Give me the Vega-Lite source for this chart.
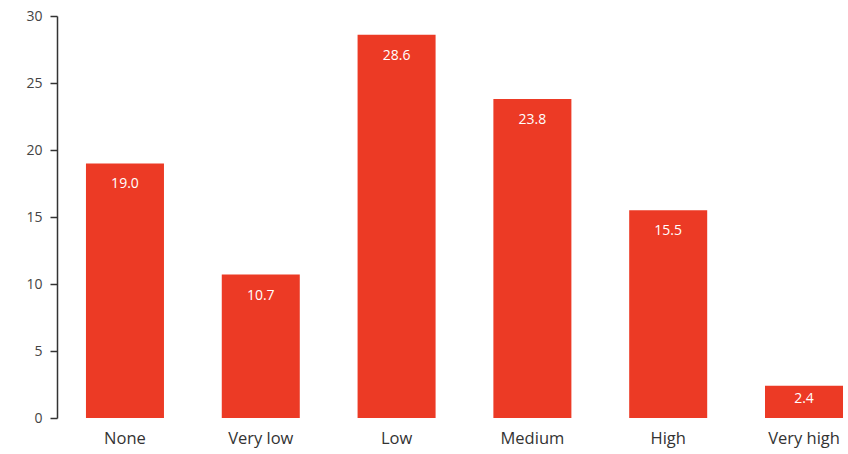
{
  "$schema": "https://vega.github.io/schema/vega-lite/v6.json",
  "autosize": {"type": "none"},
  "padding": {"left": 57, "top": 16, "right": 0, "bottom": 36},
  "width": 791,
  "height": 402,
  "background": "white",
  "config": {
    "view": {"stroke": null},
    "font": "Open Sans"
  },
  "data": {
    "values": [
      {"category": "None", "value": 19.0},
      {"category": "Very low", "value": 10.7},
      {"category": "Low", "value": 28.6},
      {"category": "Medium", "value": 23.8},
      {"category": "High", "value": 15.5},
      {"category": "Very high", "value": 2.4}
    ]
  },
  "encoding": {
    "x": {
      "field": "category",
      "type": "nominal",
      "sort": null,
      "scale": {"paddingInner": 0.4256, "paddingOuter": 0.125, "align": 0.853},
      "axis": {
        "title": null,
        "domain": false,
        "ticks": false,
        "labelAngle": 0,
        "labelFontSize": 16.5,
        "labelColor": "#333333",
        "labelPadding": 12
      }
    },
    "y": {
      "field": "value",
      "type": "quantitative",
      "scale": {"domain": [0, 30], "nice": false},
      "axis": {
        "title": null,
        "values": [0, 5, 10, 15, 20, 25, 30],
        "grid": false,
        "domainColor": "#333333",
        "domainWidth": 1.5,
        "tickColor": "#333333",
        "tickSize": 7,
        "tickWidth": 1.5,
        "labelFontSize": 14,
        "labelColor": "#444444",
        "labelPadding": 8
      }
    }
  },
  "layer": [
    {"mark": {"type": "bar", "color": "#EC3A25"}},
    {
      "transform": [{"filter": "datum.value >= 5"}],
      "mark": {"type": "text", "color": "white", "fontSize": 14, "baseline": "middle", "dy": 21},
      "encoding": {"text": {"field": "value", "type": "quantitative", "format": ".1f"}}
    },
    {
      "transform": [{"filter": "datum.value < 5"}],
      "mark": {"type": "text", "color": "white", "fontSize": 14, "baseline": "middle", "dy": 13},
      "encoding": {"text": {"field": "value", "type": "quantitative", "format": ".1f"}}
    }
  ]
}
